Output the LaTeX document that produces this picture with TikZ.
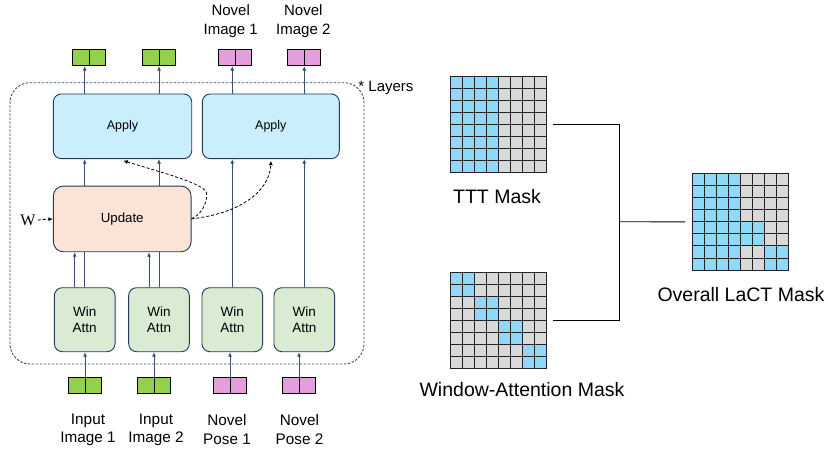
\documentclass[tikz,border=0pt]{standalone}
\usepackage{fontspec}
\setmainfont{Liberation Sans}
\newfontfamily\wfont{Liberation Serif}
\usetikzlibrary{arrows.meta}
\definecolor{boxc}{HTML}{1F3A5C}
\definecolor{linec}{HTML}{3A4F6E}
\definecolor{applyc}{HTML}{CAEEFB}
\definecolor{updc}{HTML}{FBE3D6}
\definecolor{winc}{HTML}{DAEBD3}
\definecolor{tgreen}{HTML}{92D050}
\definecolor{tpink}{HTML}{E59EDD}
\definecolor{maskblue}{HTML}{8FD9F7}
\definecolor{maskgrey}{HTML}{D9D9D9}
\definecolor{gridc}{HTML}{222222}
\definecolor{layc}{HTML}{3A506B}
\newcommand\fs[2]{\fontsize{#1}{#2}\selectfont}
\newcommand\maskgrid[4]{%
  \node[minimum width=96.8pt, minimum height=96.8pt, inner sep=0pt, anchor=north west] (#3) at (#1,#2) {};
  \foreach \r in {0,...,7}{\foreach \c in {0,...,7}{%
    \pgfmathtruncatemacro\isb{#4}%
    \ifnum\isb=1 \fill[maskblue] (#1+\c*12.1,#2+\r*12.1) rectangle ++(12.1,12.1);%
    \else \fill[maskgrey] (#1+\c*12.1,#2+\r*12.1) rectangle ++(12.1,12.1);\fi
  }}%
  \foreach \i in {0,...,8}{%
    \draw[gridc, line width=0.9pt] (#1+\i*12.1,#2) -- ++(0,96.8);
    \draw[gridc, line width=0.9pt] (#1,#2+\i*12.1) -- ++(96.8,0);
  }%
}
\tikzset{
  box/.style={draw=boxc, line width=0.9pt, rounded corners=8pt, inner sep=0pt},
  tok/.style={draw=black, line width=1pt, minimum width=33pt, minimum height=16.5pt, inner sep=0pt,
    path picture={\draw[line width=1pt] (path picture bounding box.north) -- (path picture bounding box.south);}},
  arr/.style={draw=linec, line width=0.9pt, -{Latex[length=4.5pt,width=4pt]}},
  ln/.style={draw=linec, line width=0.9pt},
  dsh/.style={draw=black, line width=0.8pt, dash pattern=on 3pt off 2pt, -{Latex[length=4.5pt,width=4pt]}},
  lbl/.style={align=center, inner sep=0pt},
}
\begin{document}
\begin{tikzpicture}[x=1pt,y=-1pt]
\useasboundingbox (0,0) rectangle (828,448);

% layer box
\node[draw=layc, line width=0.9pt, dash pattern=on 2.5pt off 1.5pt, rounded corners=20pt,
  minimum width=354pt, minimum height=281.3pt, inner sep=0pt] (layers) at (187,223.35) {};
\node[lbl, font=\fs{15}{17}] (laytxt) at (386,87.5) {* Layers};

% apply / update
\node[box, fill=applyc, minimum width=138.4pt, minimum height=64.7pt] (ap1) at (122.5,126.3) {\fs{12.5}{15}Apply};
\node[box, fill=applyc, minimum width=137pt, minimum height=64.7pt] (ap2) at (270.8,126.3) {\fs{12.5}{15}Apply};
\node[box, fill=updc, rounded corners=10pt, minimum width=137.7pt, minimum height=65.7pt] (upd) at (122.2,218.9) {\fs{13.3}{15}Update};

% win attn
\foreach \n/\x in {wa1/84.7, wa2/159, wa3/232.3, wa4/304.3}{
  \node[box, fill=winc, minimum width=60.7pt, minimum height=64pt, align=center, font=\fs{13.5}{15.5}] (\n) at (\x,319.7) {Win\\Attn};
}

% tokens
\node[tok, fill=tgreen] (o1) at (89.3,57.3) {};
\node[tok, fill=tgreen] (o2) at (159,57.3) {};
\node[tok, fill=tpink] (o3) at (235,57.3) {};
\node[tok, fill=tpink] (o4) at (304,57.3) {};
\node[tok, fill=tgreen] (i1) at (85,385.7) {};
\node[tok, fill=tgreen] (i2) at (154,385.7) {};
\node[tok, fill=tpink] (i3) at (230,385.7) {};
\node[tok, fill=tpink] (i4) at (299,385.7) {};

% labels
\node[lbl, font=\fs{15}{19}] (ln1) at (230.7,21) {Novel\\Image 1};
\node[lbl, font=\fs{15}{19}] (ln2) at (303.3,21) {Novel\\Image 2};
\node[lbl, font=\fs{15.3}{18.3}] (lb1) at (88,429.5) {Input\\Image 1};
\node[lbl, font=\fs{15.3}{18.3}] (lb2) at (156,429.5) {Input\\Image 2};
\node[lbl, font=\fs{15.3}{18.3}] (lb3) at (227,429.5) {Novel\\Pose 1};
\node[lbl, font=\fs{15.3}{18.3}] (lb4) at (299.5,429.5) {Novel\\Pose 2};

% W
\node[inner sep=0pt, font=\wfont\fs{16}{18}] (w) at (28,220) {W};
\draw[dsh, draw=black] (w.east) ++(2,0) -- (upd.west);

% inputs to win attn
\foreach \k in {1,...,4}{
  \draw[arr] (i\k.north) -- (i\k.north |- wa\k.south);
}
% win attn to update / apply
\foreach \k/\a in {1/ap1,2/ap1}{
  \draw[arr] ([xshift=-10pt]wa\k.north) -- ([xshift=-10pt]wa\k.north |- upd.south);
  \draw[ln] (wa\k.north) -- (wa\k.north |- upd.south);
  \draw[arr] (wa\k.north |- upd.north) -- (wa\k.north |- \a.south);
}
\draw[arr] (wa3.north) -- (wa3.north |- ap2.south);
\draw[arr] (wa4.north) -- (wa4.north |- ap2.south);
% apply to outputs
\draw[arr] (wa1.north |- ap1.north) -- (wa1.north |- o1.south);
\draw[arr] (wa2.north |- ap1.north) -- (wa2.north |- o2.south);
\draw[arr] (wa3.north |- ap2.north) -- (wa3.north |- o3.south);
\draw[arr] (wa4.north |- ap2.north) -- (wa4.north |- o4.south);

% dashed curves
\coordinate (t1) at (123.3,160.7);
\coordinate (t2) at (271,160.7);
\coordinate (bend) at (206.7,193.3);
\draw[dsh] (upd.east) .. controls (202,214) and (207,203) .. (bend)
  .. controls (206,184) and (160,172) .. (t1);
\draw[dsh] (upd.east) .. controls (250,212) and (270,185) .. (t2);

% masks
\maskgrid{450}{76}{ttt}{\c<4}
\maskgrid{450}{272}{wam}{floor(\r/2)==floor(\c/2)}
\maskgrid{692}{173.3}{all}{(\c<4) || (\r>3 && \r<6 && \c<6) || (\r>5 && \c>5)}

\node[lbl, font=\fs{19.5}{22}] (tttl) at (497,197) {TTT Mask};
\node[lbl, font=\fs{19.5}{22}] (waml) at (522,390) {Window-Attention Mask};
\node[lbl, font=\fs{19.5}{22}] (alll) at (741,295) {Overall LaCT Mask};

\coordinate (jx) at (619,221.7);
\draw[black, line width=0.9pt] ([xshift=6pt]ttt.east) -| (jx);
\draw[black, line width=0.9pt] ([xshift=6pt]wam.east) -| (jx);
\draw[black, line width=0.9pt] (jx) -- ([xshift=-7pt]all.west);
\end{tikzpicture}
\end{document}
